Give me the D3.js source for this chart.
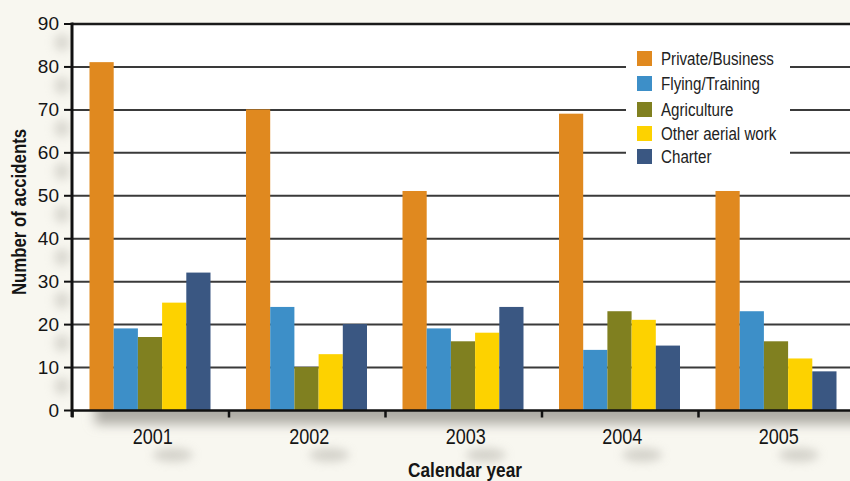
<!DOCTYPE html>
<html>
<head>
<meta charset="utf-8">
<script src="https://cdn.jsdelivr.net/npm/d3@7"></script>
<style>
  html, body { margin: 0; padding: 0; background: #f8f7f0; }
  svg { display: block; }
  text { font-family: "Liberation Sans", Arial, Helvetica, sans-serif; }
</style>
</head>
<body>
<div id="chart"></div>
<script>
const years = ["2001", "2002", "2003", "2004", "2005"];
const seriesNames = ["Private/Business", "Flying/Training", "Agriculture", "Other aerial work", "Charter"];
const privateBusiness = [81, 70, 51, 69, 51];
const flyingTraining = [19, 24, 19, 14, 23];
const agriculture = [17, 10, 16, 23, 16];
const otherAerialWork = [25, 13, 18, 21, 12];
const charter = [32, 20, 24, 15, 9];
const yTicks = [0, 10, 20, 30, 40, 50, 60, 70, 80, 90];
const colors = ["#e0891f", "#3d8fc8", "#808020", "#fdd200", "#3a5782"];

const seriesValues = [privateBusiness, flyingTraining, agriculture, otherAerialWork, charter];
const data = years.map((yr, i) => ({ year: yr, values: seriesNames.map((s, j) => ({ key: s, value: seriesValues[j][i], color: colors[j] })) }));

const W = 850, H = 481;
const NARROW = 0.82;
const FONT = '"Liberation Sans", Arial, Helvetica, sans-serif';
const svg = d3.select("#chart").append("svg").attr("width", W).attr("height", H);
const defs = svg.append("defs");
defs.append("filter").attr("id", "blurBig").attr("x", "-20%").attr("y", "-100%").attr("width", "140%").attr("height", "300%")
  .append("feGaussianBlur").attr("stdDeviation", 6);
defs.append("filter").attr("id", "blurSoft").attr("x", "-100%").attr("y", "-100%").attr("width", "300%").attr("height", "300%")
  .append("feGaussianBlur").attr("stdDeviation", 5);

svg.append("rect").attr("width", W).attr("height", H).attr("fill", "#f8f7f0");

const x0 = d3.scaleBand().domain(years).range([72.5, 72.5 + 5 * 156.5]).paddingInner(0).paddingOuter(0);
const x1 = d3.scaleBand().domain(seriesNames).range([17, 138]).padding(0);
const y = d3.scaleLinear().domain([0, 90]).range([410, 23.5]);

// narrow text helper (condensed look)
function narrowText(g, x, yy, str, size, opts = {}) {
  return g.append("text")
    .attr("transform", `translate(${x},${yy}) scale(${NARROW},1)`)
    .attr("text-anchor", opts.anchor || "start")
    .attr("font-family", FONT)
    .attr("font-size", size)
    .attr("font-weight", opts.bold ? "bold" : "normal")
    .attr("fill", opts.fill || "#151515")
    .text(str);
}

// bottom shadow below plot
svg.append("rect").attr("x", 95).attr("y", 398).attr("width", 800).attr("height", 26)
  .attr("fill", "#aeaca5").attr("filter", "url(#blurBig)");

// soft blob shadows for y tick labels and year labels
svg.append("g").attr("opacity", 0.5).selectAll("ellipse").data(yTicks.slice(1)).join("ellipse")
  .attr("cx", 62).attr("cy", d => y(d) + 19).attr("rx", 8).attr("ry", 9)
  .attr("fill", "#bdbbb3").attr("filter", "url(#blurSoft)");
svg.append("g").attr("opacity", 0.6).selectAll("ellipse").data(years).join("ellipse")
  .attr("cx", d => x0(d) + x0.bandwidth() / 2 + 22).attr("cy", 455).attr("rx", 20).attr("ry", 7)
  .attr("fill", "#bdbbb3").attr("filter", "url(#blurSoft)");

// white plot area
svg.append("rect").attr("x", 72).attr("y", 23.5).attr("width", W - 72).attr("height", 410 - 23.5).attr("fill", "#ffffff");

// gridlines
svg.append("g").selectAll("line").data(yTicks.slice(1)).join("line")
  .attr("x1", 72).attr("x2", W).attr("y1", d => y(d) + 0.5).attr("y2", d => y(d) + 0.5)
  .attr("stroke", d => d === 90 ? "#1a1a1a" : "#3a3a3a").attr("stroke-width", d => d === 90 ? 2.5 : 2);

// legend box
const legend = svg.append("g").attr("transform", "translate(626,38)");
legend.append("rect").attr("width", 164).attr("height", 136).attr("fill", "#ffffff");
const legY = [13, 38, 64, 88, 111];
seriesNames.forEach((s, i) => {
  legend.append("rect").attr("x", 11).attr("y", legY[i]).attr("width", 15).attr("height", 15).attr("fill", colors[i]);
  narrowText(legend, 35, legY[i] + 14, s, 18.5, { fill: "#222" });
});

// bars
const groups = svg.append("g").selectAll("g").data(data).join("g")
  .attr("transform", d => `translate(${x0(d.year)},0)`);
groups.selectAll("rect").data(d => d.values).join("rect")
  .attr("x", d => x1(d.key)).attr("width", x1.bandwidth())
  .attr("y", d => y(d.value)).attr("height", d => y(0) - y(d.value))
  .attr("fill", d => d.color);

// x axis
const xAxis = d3.axisBottom(x0).tickValues([]).tickSizeOuter(0);
const xg = svg.append("g").attr("transform", "translate(0,410.5)").call(xAxis);
xg.select(".domain").attr("stroke", "#111").attr("stroke-width", 2.5).attr("d", `M72,0H${W}`);
xg.selectAll(".bt").data(d3.range(6)).join("line").attr("class", "bt")
  .attr("x1", i => 72.5 + i * 156.5).attr("x2", i => 72.5 + i * 156.5)
  .attr("y1", 0).attr("y2", 7).attr("stroke", "#111").attr("stroke-width", 2.5);
const yearG = svg.append("g");
years.forEach(yr => narrowText(yearG, x0(yr) + x0.bandwidth() / 2 + 2, 444, yr, 22, { anchor: "middle" }));

// y axis
const yAxis = d3.axisLeft(y).tickValues(yTicks).tickSize(8).tickPadding(5).tickSizeOuter(0);
const yg = svg.append("g").attr("transform", "translate(72,0)").call(yAxis);
yg.select(".domain").attr("stroke", "#111").attr("stroke-width", 3).attr("d", `M0,${y(90) - 1}V417`);
yg.selectAll(".tick line").attr("stroke", "#111").attr("stroke-width", 2);
yg.selectAll(".tick text").attr("font-family", FONT).attr("font-size", 19).attr("fill", "#151515");

// axis titles
const titleYG = svg.append("g").attr("transform", "translate(26,212) rotate(-90)");
narrowText(titleYG, 0, 0, "Number of accidents", 20.5, { anchor: "middle", bold: true });
narrowText(svg, 465, 477, "Calendar year", 21, { anchor: "middle", bold: true });
</script>
</body>
</html>
